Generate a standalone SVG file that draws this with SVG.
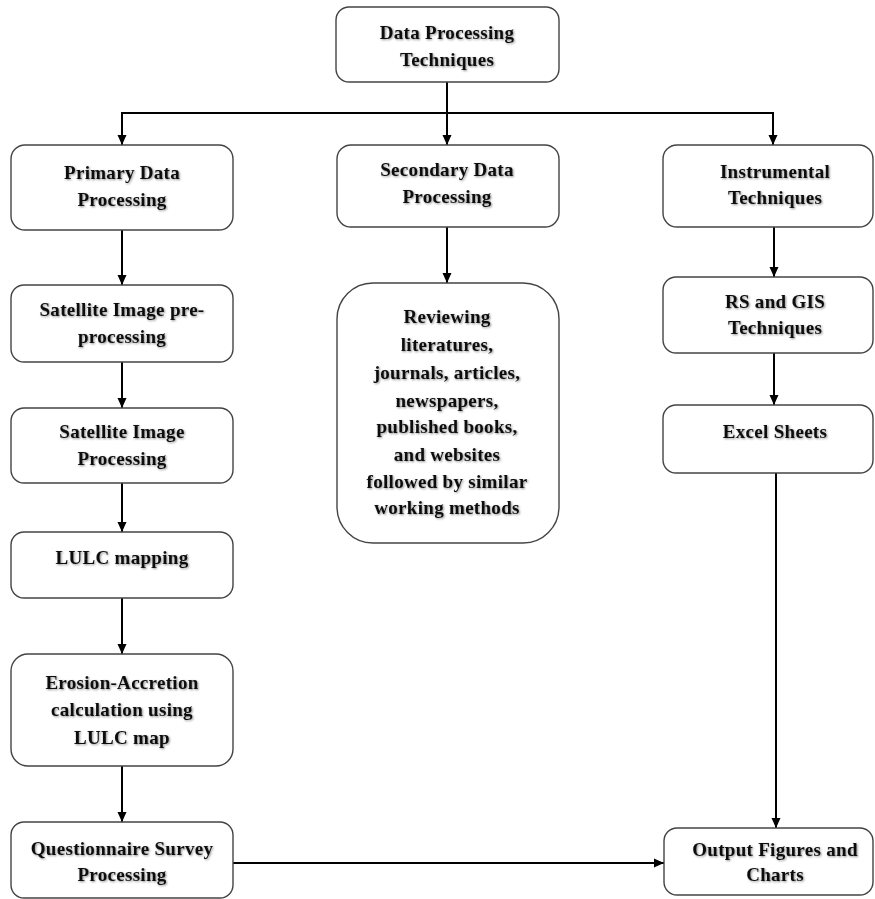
<svg xmlns="http://www.w3.org/2000/svg" width="875" height="899" viewBox="0 0 875 899">
<defs>
<marker id="ah" markerWidth="12" markerHeight="12" refX="10" refY="5.5" orient="auto" markerUnits="userSpaceOnUse">
<path d="M0,1 L10,5.5 L0,10 Z" fill="#000"/>
</marker>
<filter id="sh" x="-5%" y="-20%" width="110%" height="140%">
<feGaussianBlur in="SourceAlpha" stdDeviation="0.8" result="b"/>
<feOffset in="b" dx="1" dy="1" result="o"/>
<feComponentTransfer in="o" result="o2"><feFuncA type="linear" slope="0.45"/></feComponentTransfer>
<feMerge><feMergeNode in="o2"/><feMergeNode in="SourceGraphic"/></feMerge>
</filter>
</defs>
<style>
.box{fill:#fff;stroke:#444;stroke-width:1.4}
.t{font-family:"Liberation Serif","Times New Roman",serif;font-weight:bold;font-size:19px;letter-spacing:0.3px;text-anchor:middle;fill:#111;filter:url(#sh)}
.c{fill:none;stroke:#000;stroke-width:2}
</style>
<rect width="875" height="899" fill="#fff"/>
<g id="connectors">
<line class="c" x1="447" y1="82" x2="447" y2="113"/>
<line class="c" x1="121" y1="113" x2="774" y2="113"/>
<line class="c" x1="122" y1="113" x2="122" y2="145" marker-end="url(#ah)"/>
<line class="c" x1="447" y1="113" x2="447" y2="145" marker-end="url(#ah)"/>
<line class="c" x1="773" y1="113" x2="773" y2="145" marker-end="url(#ah)"/>
<line class="c" x1="122" y1="230" x2="122" y2="285" marker-end="url(#ah)"/>
<line class="c" x1="122" y1="362" x2="122" y2="408" marker-end="url(#ah)"/>
<line class="c" x1="122" y1="483" x2="122" y2="532" marker-end="url(#ah)"/>
<line class="c" x1="122" y1="598" x2="122" y2="654" marker-end="url(#ah)"/>
<line class="c" x1="122" y1="766" x2="122" y2="822" marker-end="url(#ah)"/>
<line class="c" x1="447" y1="227" x2="447" y2="283" marker-end="url(#ah)"/>
<line class="c" x1="774" y1="227" x2="774" y2="277" marker-end="url(#ah)"/>
<line class="c" x1="774" y1="353" x2="774" y2="405" marker-end="url(#ah)"/>
<line class="c" x1="776" y1="473" x2="776" y2="828" marker-end="url(#ah)"/>
<line class="c" x1="233" y1="863" x2="664" y2="863" marker-end="url(#ah)"/>
</g>
<g id="n-top">
<rect class="box" x="336" y="7" width="223" height="75" rx="13"/>
<text class="t" x="447" y="39">Data Processing</text>
<text class="t" x="447" y="66">Techniques</text>
</g>
<g id="n-primary">
<rect class="box" x="11" y="145" width="222" height="85" rx="14"/>
<text class="t" x="122" y="179">Primary Data</text>
<text class="t" x="122" y="206">Processing</text>
</g>
<g id="n-secondary">
<rect class="box" x="337" y="145" width="222" height="82" rx="14"/>
<text class="t" x="447" y="176">Secondary Data</text>
<text class="t" x="447" y="203">Processing</text>
</g>
<g id="n-instrumental">
<rect class="box" x="663" y="145" width="210" height="82" rx="14"/>
<text class="t" x="775" y="178">Instrumental</text>
<text class="t" x="775" y="204">Techniques</text>
</g>
<g id="n-preproc">
<rect class="box" x="11" y="285" width="222" height="77" rx="13"/>
<text class="t" x="122" y="316">Satellite Image pre-</text>
<text class="t" x="122" y="343">processing</text>
</g>
<g id="n-imgproc">
<rect class="box" x="11" y="408" width="222" height="75" rx="13"/>
<text class="t" x="122" y="438">Satellite Image</text>
<text class="t" x="122" y="465">Processing</text>
</g>
<g id="n-lulc">
<rect class="box" x="11" y="532" width="222" height="66" rx="13"/>
<text class="t" x="122" y="564">LULC mapping</text>
</g>
<g id="n-erosion">
<rect class="box" x="11" y="654" width="222" height="112" rx="17"/>
<text class="t" x="122" y="689">Erosion-Accretion</text>
<text class="t" x="122" y="716">calculation using</text>
<text class="t" x="122" y="744">LULC map</text>
</g>
<g id="n-questionnaire">
<rect class="box" x="11" y="822" width="222" height="76" rx="13"/>
<text class="t" x="122" y="855">Questionnaire Survey</text>
<text class="t" x="122" y="881">Processing</text>
</g>
<g id="n-reviewing">
<rect class="box" x="337" y="283" width="222" height="260" rx="36"/>
<text class="t" x="447" y="323">Reviewing</text>
<text class="t" x="447" y="351">literatures,</text>
<text class="t" x="447" y="379">journals, articles,</text>
<text class="t" x="447" y="407">newspapers,</text>
<text class="t" x="447" y="433">published books,</text>
<text class="t" x="447" y="461">and websites</text>
<text class="t" x="447" y="488">followed by similar</text>
<text class="t" x="447" y="514">working methods</text>
</g>
<g id="n-rsgis">
<rect class="box" x="663" y="277" width="210" height="76" rx="13"/>
<text class="t" x="775" y="308">RS and GIS</text>
<text class="t" x="775" y="334">Techniques</text>
</g>
<g id="n-excel">
<rect class="box" x="663" y="405" width="210" height="68" rx="13"/>
<text class="t" x="775" y="438">Excel Sheets</text>
</g>
<g id="n-output">
<rect class="box" x="664" y="828" width="209" height="67" rx="13"/>
<text class="t" x="775" y="856">Output Figures and</text>
<text class="t" x="775" y="881">Charts</text>
</g>
</svg>
